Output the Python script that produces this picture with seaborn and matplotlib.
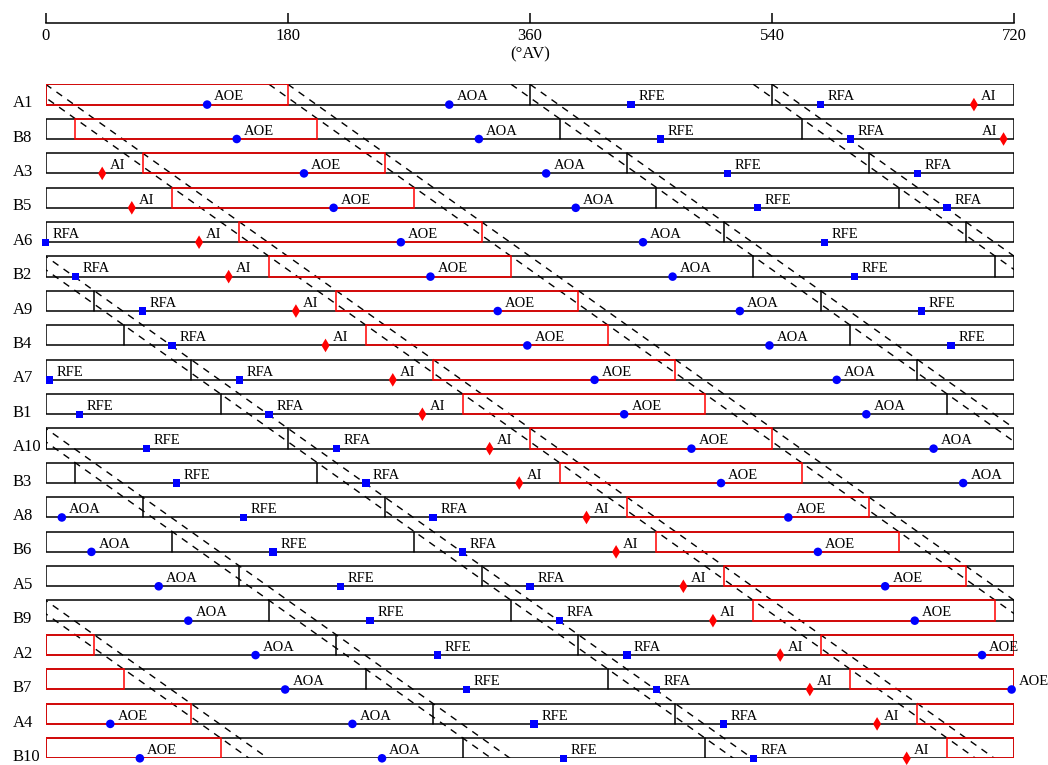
import matplotlib.pyplot as plt
import numpy as np
import pandas as pd
import seaborn as sns
from matplotlib.patches import Rectangle

# === SETUP === #
sns.set_theme(style="ticks")
plt.rcParams["font.family"] = ["Liberation Serif", "DejaVu Serif"]
plt.rcParams["text.color"] = "black"
plt.rcParams["axes.labelcolor"] = "black"
plt.rcParams["xtick.color"] = "black"

# cylinders in firing order, with the crank angle where each one starts its power stroke
cylinders = ["A1", "B8", "A3", "B5", "A6", "B2", "A9", "B4", "A7", "B1",
             "A10", "B3", "A8", "B6", "A5", "B9", "A2", "B7", "A4", "B10"]
offsets = [0, 22, 72, 94, 144, 166, 216, 238, 288, 310,
           360, 382, 432, 454, 504, 526, 576, 598, 648, 670]

# valve / injection events, relative to the cylinder's own TDC
events = ["AOE", "AOA", "RFE", "RFA", "AI"]
event_angles = [120, 300, 435, 576, 690]

ticks = [0, 180, 360, 540, 720]
labels_on_left = [("B8", "AI")]

CYCLE = 720
STROKE = 180
ROW_H = 0.59
n = len(cylinders)
slope = CYCLE / n

records = []
for i, (cyl, off) in enumerate(zip(cylinders, offsets)):
    for ev, ang in zip(events, event_angles):
        records.append({"cyl": cyl, "row": i, "event": ev, "angle": (off + ang) % CYCLE})
df = pd.DataFrame(records)
df["y"] = df["row"] + ROW_H

fig = plt.figure(figsize=(10.48, 7.65), dpi=100)
W, H = 1048, 765
x0, x1 = 45.7, 1014.3
ax = fig.add_axes([x0 / W, 1 - 758.3 / H, (x1 - x0) / W, (758.3 - 84.3) / H])

# diagonal dashed bands following the firing sequence
t = np.array([0, n - 1 + ROW_H])
for k in range(4):
    for base in (offsets[0] + STROKE * k, offsets[1] - slope + STROKE * k):
        for shift in (0, -CYCLE):
            ax.plot(base + shift + slope * t, t, color="black", lw=1.0,
                    ls=(0, (5, 4.5)), zorder=1)

for i, (cyl, off) in enumerate(zip(cylinders, offsets)):
    ax.add_patch(Rectangle((0, i), CYCLE, ROW_H, fill=False, ec="black", lw=1.1, zorder=2))
    for k in (2, 3):
        xs = (off + STROKE * k) % CYCLE
        ax.plot([xs, xs], [i, i + ROW_H], color="black", lw=1.1, zorder=2)
    end = off + STROKE
    if end <= CYCLE:
        pieces = [(off, STROKE)]
    else:
        pieces = [(off, CYCLE - off), (0, end - CYCLE)]
    for start, width in pieces:
        ax.add_patch(Rectangle((start, i), width, ROW_H, fill=False, ec="red", lw=1.1, zorder=3))
    ax.text(-24.5, i + ROW_H - 0.04, cyl, ha="left", va="center", fontsize=12)

sns.scatterplot(
    data=df, x="angle", y="y", hue="event", style="event", size="event",
    palette={"AOE": "blue", "AOA": "blue", "RFE": "blue", "RFA": "blue", "AI": "red"},
    markers={"AOE": "o", "AOA": "o", "RFE": "s", "RFA": "s", "AI": "d"},
    sizes={"AOE": 38, "AOA": 38, "RFE": 28, "RFA": 28, "AI": 48},
    linewidth=0, legend=False, clip_on=False, zorder=4, ax=ax,
)
ax.set_xlim(0, CYCLE)
ax.set_ylim(n - 1 + ROW_H, 0)
ax.axis("off")

for _, r in df.iterrows():
    if (r["cyl"], r["event"]) in labels_on_left:
        ax.annotate(r["event"], (r["angle"], r["y"]), xytext=(-4.5, 3.1),
                    textcoords="offset points", ha="right", va="baseline", fontsize=10.5)
    else:
        ax.annotate(r["event"], (r["angle"], r["y"]), xytext=(5.2, 3.1),
                    textcoords="offset points", ha="left", va="baseline", fontsize=10.5)

# crank angle scale on top
ax_top = fig.add_axes([x0 / W, 1 - 23.3 / H, (x1 - x0) / W, 0.01])
ax_top.patch.set_visible(False)
ax_top.set_xlim(0, CYCLE)
ax_top.set_xticks(ticks)
ax_top.set_yticks([])
for side in ("top", "left", "right"):
    ax_top.spines[side].set_visible(False)
ax_top.spines["bottom"].set_color("black")
ax_top.spines["bottom"].set_linewidth(1.1)
ax_top.tick_params(axis="x", direction="in", length=7.2, width=1.1, pad=3.5,
                   labelsize=12, bottom=True, labelbottom=True)
ax_top.set_xlabel("(°AV)", fontsize=12, labelpad=1.5)

fig.savefig("out.png", dpi=100)
